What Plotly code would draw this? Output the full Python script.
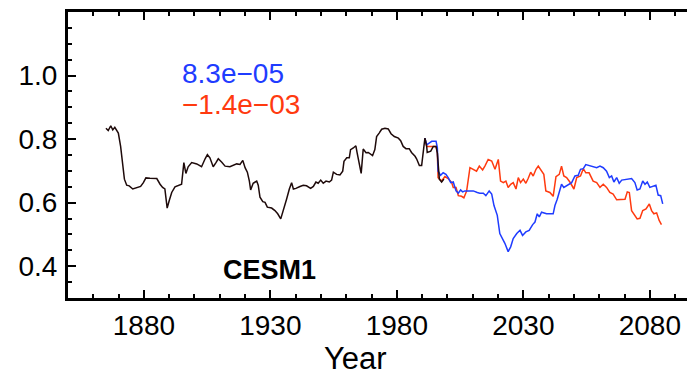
import plotly.graph_objects as go

# Historical run (black)
hist_year = [1865.0, 1865.9, 1866.9, 1867.7, 1868.5, 1869.2, 1869.9, 1870.8, 1871.6, 1872.3,
             1873.2, 1874.2, 1875.6, 1877.2, 1878.7, 1879.8, 1880.8, 1882.4, 1885.1, 1886.4,
             1887.4, 1888.3, 1889.2, 1890.0, 1891.0, 1892.3, 1893.6, 1894.9, 1895.8, 1896.6,
             1897.5, 1898.9, 1900.9, 1902.8, 1904.2, 1905.1, 1906.1, 1907.4, 1908.5, 1909.4,
             1910.8, 1912.1, 1914.0, 1915.3, 1916.7, 1918.0, 1919.1, 1920.0, 1920.9, 1921.7,
             1922.2, 1923.2, 1924.6, 1925.2, 1925.9, 1927.0, 1927.9, 1928.8, 1930.5, 1931.8,
             1932.9, 1934.1, 1935.1, 1936.4, 1937.5, 1938.4, 1939.1, 1940.1, 1941.7, 1943.0,
             1944.3, 1945.9, 1947.0, 1948.0, 1948.9, 1949.9, 1950.9, 1952.0, 1953.3, 1954.2,
             1954.9, 1956.2, 1957.5, 1958.6, 1959.1, 1960.2, 1961.2, 1961.7, 1962.8, 1963.8,
             1964.3, 1965.1, 1965.9, 1966.7, 1967.8, 1968.7, 1969.6, 1970.4, 1971.3, 1972.0,
             1973.0, 1974.0, 1975.3, 1976.6, 1977.7, 1979.0, 1980.6, 1981.5, 1982.5, 1983.6,
             1984.9, 1985.8, 1987.2, 1987.8, 1988.9, 1989.8, 1990.7, 1991.1, 1991.8, 1992.0,
             1993.4, 1994.4, 1995.5, 1996.0, 1996.8, 1997.7, 1998.6]
hist_val = [0.834, 0.827, 0.842, 0.829, 0.837, 0.827, 0.819, 0.777, 0.726, 0.674,
            0.655, 0.653, 0.643, 0.646, 0.651, 0.663, 0.678, 0.677, 0.676, 0.658,
            0.648, 0.643, 0.583, 0.606, 0.632, 0.650, 0.655, 0.658, 0.726, 0.692,
            0.713, 0.726, 0.722, 0.713, 0.738, 0.751, 0.741, 0.713, 0.726, 0.738,
            0.727, 0.715, 0.713, 0.717, 0.722, 0.720, 0.733, 0.710, 0.696, 0.668,
            0.640, 0.661, 0.668, 0.655, 0.617, 0.603, 0.601, 0.586, 0.583, 0.575,
            0.565, 0.549, 0.580, 0.611, 0.643, 0.663, 0.643, 0.645, 0.651, 0.655,
            0.653, 0.645, 0.651, 0.665, 0.661, 0.671, 0.661, 0.668, 0.665, 0.671,
            0.696, 0.689, 0.687, 0.699, 0.730, 0.741, 0.741, 0.767, 0.772, 0.779,
            0.757, 0.726, 0.692, 0.769, 0.757, 0.758, 0.751, 0.748, 0.767, 0.808,
            0.819, 0.831, 0.834, 0.832, 0.817, 0.808, 0.803, 0.795, 0.777, 0.770,
            0.770, 0.758, 0.746, 0.738, 0.717, 0.717, 0.777, 0.803, 0.777, 0.758,
            0.762, 0.777, 0.777, 0.757, 0.674, 0.665, 0.674]

# Scenario run A (blue)
blue_year = [1991.1, 1991.8, 1993.8, 1995.5, 1996.0, 1996.3, 1997.3, 1998.3, 1999.4, 2000.3,
             2001.3, 2002.3, 2003.4, 2004.3, 2005.2, 2006.0, 2006.9, 2008.2, 2010.2, 2011.8,
             2012.8, 2014.2, 2015.2, 2016.5, 2017.5, 2018.4, 2019.7, 2020.7, 2021.8, 2022.7,
             2024.0, 2025.0, 2026.0, 2027.4, 2028.7, 2029.7, 2031.0, 2032.3, 2033.7, 2034.6,
             2035.5, 2036.3, 2037.2, 2038.1, 2039.2, 2041.8, 2042.5, 2043.4, 2044.5, 2045.1,
             2046.0, 2047.1, 2048.4, 2049.1, 2050.4, 2051.7, 2052.6, 2053.7, 2054.7, 2056.0,
             2057.4, 2059.0, 2060.3, 2061.6, 2062.9, 2064.0, 2064.9, 2065.8, 2066.9, 2067.9,
             2068.9, 2070.6, 2072.8, 2074.1, 2075.0, 2076.1, 2077.2, 2078.1, 2079.0, 2080.0,
             2081.3, 2082.4, 2083.3, 2084.3, 2085.1]
blue_val = [0.803, 0.782, 0.793, 0.793, 0.773, 0.699, 0.686, 0.694, 0.689, 0.679,
            0.663, 0.665, 0.637, 0.630, 0.640, 0.634, 0.637, 0.637, 0.637, 0.632,
            0.630, 0.630, 0.622, 0.637, 0.627, 0.591, 0.560, 0.503, 0.487, 0.472,
            0.446, 0.461, 0.487, 0.503, 0.513, 0.497, 0.508, 0.513, 0.531, 0.539,
            0.565, 0.555, 0.570, 0.567, 0.565, 0.565, 0.591, 0.611, 0.637, 0.658,
            0.648, 0.653, 0.658, 0.663, 0.684, 0.686, 0.705, 0.707, 0.720, 0.717,
            0.713, 0.710, 0.715, 0.710, 0.699, 0.679, 0.684, 0.665, 0.679, 0.661,
            0.671, 0.674, 0.676, 0.663, 0.640, 0.643, 0.668, 0.658, 0.665, 0.648,
            0.653, 0.655, 0.624, 0.622, 0.596]

# Scenario run B (red)
red_year = [1991.1, 1991.8, 1994.4, 1995.5, 1996.0, 1996.3, 1997.7, 1999.0, 2000.3, 2001.7,
            2002.3, 2003.4, 2004.3, 2005.6, 2006.5, 2007.6, 2008.9, 2010.2, 2011.5, 2012.6,
            2013.9, 2014.8, 2016.1, 2017.5, 2018.8, 2020.1, 2021.0, 2022.1, 2023.1, 2024.0,
            2025.0, 2026.0, 2027.1, 2028.0, 2028.9, 2030.0, 2031.0, 2031.9, 2032.9, 2033.9,
            2035.0, 2035.9, 2036.8, 2038.1, 2038.9, 2040.5, 2041.8, 2042.9, 2044.2, 2045.1,
            2046.0, 2047.1, 2048.4, 2050.0, 2051.1, 2052.6, 2053.7, 2054.7, 2056.0, 2057.6,
            2059.0, 2060.3, 2061.6, 2062.9, 2064.2, 2065.5, 2066.9, 2068.8, 2070.2, 2071.1,
            2071.9, 2072.8, 2074.1, 2075.0, 2076.1, 2077.2, 2078.5, 2079.8, 2080.7, 2081.6,
            2082.7, 2083.7, 2084.6]
red_val = [0.803, 0.777, 0.777, 0.777, 0.757, 0.679, 0.668, 0.682, 0.676, 0.663,
           0.648, 0.648, 0.622, 0.620, 0.615, 0.637, 0.710, 0.705, 0.699, 0.715,
           0.703, 0.715, 0.736, 0.731, 0.705, 0.736, 0.668, 0.663, 0.668, 0.648,
           0.658, 0.663, 0.643, 0.679, 0.663, 0.674, 0.661, 0.676, 0.696, 0.684,
           0.705, 0.715, 0.705, 0.689, 0.637, 0.632, 0.620, 0.682, 0.689, 0.715,
           0.684, 0.679, 0.665, 0.643, 0.679, 0.684, 0.707, 0.694, 0.694, 0.668,
           0.663, 0.648, 0.658, 0.648, 0.632, 0.627, 0.609, 0.609, 0.611, 0.634,
           0.632, 0.575, 0.560, 0.549, 0.551, 0.575, 0.580, 0.596, 0.575, 0.565,
           0.568, 0.544, 0.531]

trend_labels = ["8.3e\u221205", "\u22121.4e\u221203"]
model_name = "CESM1"

x_major = [1880, 1930, 1980, 2030, 2080]
y_major = [0.4, 0.6, 0.8, 1.0]

BLUE = "#1f3cff"
RED = "#ff3a0f"
DARK = "#1e0a0a"
FONT = "Liberation Sans, Arial, Helvetica, sans-serif"

fig = go.Figure()
fig.add_trace(go.Scatter(x=red_year, y=red_val, mode="lines",
                         line=dict(color=RED, width=1.5), hoverinfo="skip"))
fig.add_trace(go.Scatter(x=blue_year, y=blue_val, mode="lines",
                         line=dict(color=BLUE, width=1.5), hoverinfo="skip"))
fig.add_trace(go.Scatter(x=hist_year, y=hist_val, mode="lines",
                         line=dict(color=DARK, width=1.5), hoverinfo="skip"))

# trend values, stacked in the upper-left corner
fig.add_annotation(x=1894.3, y=1.005, xref="x", yref="y", text=trend_labels[0],
                   showarrow=False, xanchor="left", yanchor="middle",
                   font=dict(family=FONT, size=28, color=BLUE))
fig.add_annotation(x=1894.3, y=0.910, xref="x", yref="y", text=trend_labels[1],
                   showarrow=False, xanchor="left", yanchor="middle",
                   font=dict(family=FONT, size=28, color=RED))
fig.add_annotation(x=1910.3, y=0.388, xref="x", yref="y", text="<b>" + model_name + "</b>",
                   showarrow=False, xanchor="left", yanchor="middle",
                   font=dict(family=FONT, size=27, color="black"))
fig.add_annotation(x=0.465, y=-0.21, xref="paper", yref="paper", text="Year",
                   showarrow=False, xanchor="center", yanchor="middle",
                   font=dict(family=FONT, size=31, color="black"))

axis_common = dict(
    showgrid=False, zeroline=False, showline=True, linecolor="black", linewidth=3,
    ticks="inside", tickcolor="black", tickwidth=2, ticklen=8,
    tickfont=dict(family=FONT, size=28, color="black"),
)

fig.update_xaxes(
    range=[1850, 2094.7], tickvals=x_major, ticktext=[str(v) for v in x_major],
    mirror="allticks", ticklabelstandoff=0,
    minor=dict(tickmode="linear", tick0=1850, dtick=10, ticks="inside",
               ticklen=4, tickwidth=2, tickcolor="black"),
    **axis_common,
)
fig.update_yaxes(
    range=[0.3, 1.2], tickvals=y_major, ticktext=["%.1f" % v for v in y_major],
    ticklabelstandoff=2,
    minor=dict(tickmode="linear", tick0=0.3, dtick=0.05, ticks="inside",
               ticklen=4, tickwidth=2, tickcolor="black"),
    **axis_common,
)

fig.update_layout(
    width=687, height=376,
    margin=dict(l=68, r=0, t=12, b=78),
    paper_bgcolor="white", plot_bgcolor="white",
    showlegend=False,
)

fig.write_html("out.html")
